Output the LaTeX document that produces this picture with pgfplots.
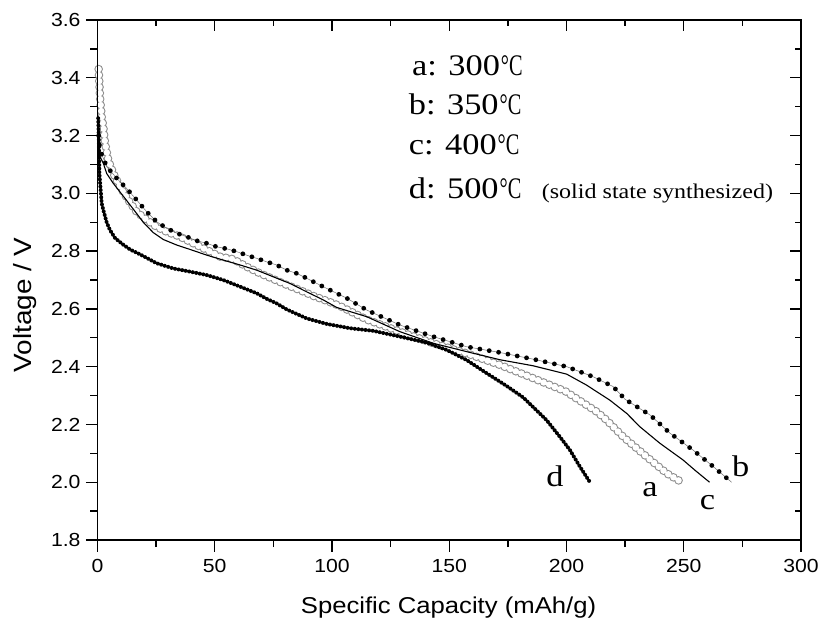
\documentclass[border=0pt]{standalone}
\usepackage{fontspec}
\setmainfont[FakeStretch=1.12]{Liberation Sans}
\newfontfamily\tnr[FakeStretch=1.15]{Liberation Serif}
\newfontfamily\tnrc[FakeStretch=0.68]{Liberation Serif}
\usepackage{pgfplots}
\pgfplotsset{compat=1.18}
\newcommand{\dc}{{\tnrc\kern1pt °C}}

\pgfplotstableread{
x y
0.5 3.43
0.8 3.38
1.1 3.33
1.8 3.265
2.5 3.23
3.2 3.175
4.6 3.115
6.7 3.07
9.6 3.023
13.1 2.977
16.7 2.936
21.0 2.908
25.2 2.884
29.5 2.867
35.2 2.850
40.8 2.827
46.6 2.804
52.2 2.781
57.9 2.772
63.6 2.746
69.3 2.723
75.0 2.703
80.7 2.683
86.3 2.665
92.0 2.645
97.7 2.628
103.4 2.610
114.8 2.563
129.0 2.521
143.2 2.481
157.4 2.446
171.6 2.406
185.8 2.360
199.5 2.315
208.0 2.270
212.9 2.244
217.1 2.215
224.2 2.157
234.2 2.088
242.7 2.031
249.1 2.000
}\dataA

\pgfplotstableread{
x y
0.5 3.20
1.0 3.15
2.5 3.121
3.9 3.092
5.3 3.080
8.2 3.052
12.4 3.017
16.7 2.977
21.0 2.936
25.2 2.902
29.5 2.879
33.8 2.862
38.0 2.850
42.3 2.836
46.6 2.827
50.8 2.815
55.1 2.808
59.4 2.798
63.6 2.786
67.9 2.775
72.1 2.763
76.4 2.752
80.7 2.734
84.9 2.723
89.2 2.706
93.5 2.688
97.7 2.671
102.0 2.654
106.3 2.637
114.8 2.596
129.0 2.544
143.2 2.504
157.4 2.469
171.6 2.449
185.8 2.426
200.1 2.400
211.4 2.365
219.9 2.331
225.0 2.287
235.6 2.233
244.1 2.170
254.0 2.111
262.6 2.054
270.4 2.000
}\dataB

\pgfplotstableread{
x y
0.3 3.17
1.1 3.127
2.5 3.104
3.9 3.069
6.7 3.035
11.0 2.990
15.3 2.945
19.5 2.900
23.8 2.864
28.1 2.840
33.8 2.821
39.4 2.806
46.6 2.786
53.6 2.769
60.8 2.752
67.9 2.734
75.0 2.711
82.1 2.688
89.2 2.659
96.3 2.631
102.0 2.605
114.8 2.573
129.0 2.521
143.2 2.481
157.4 2.452
171.6 2.424
185.8 2.403
200.1 2.374
208.6 2.336
212.0 2.318
218.5 2.284
225.7 2.238
231.3 2.192
239.8 2.135
249.7 2.077
255.0 2.040
261.0 2.000
}\dataC

\pgfplotstableread{
x y
0.3 3.26
0.6 3.18
0.8 3.07
1.8 2.965
2.5 2.942
3.9 2.900
5.3 2.873
7.5 2.845
11.0 2.822
14.0 2.805
18.1 2.789
25.2 2.758
32.3 2.740
39.4 2.729
46.6 2.717
53.6 2.700
60.8 2.677
67.9 2.654
72.1 2.635
76.4 2.619
80.7 2.598
89.2 2.567
97.7 2.548
107.7 2.533
117.6 2.524
129.0 2.504
140.4 2.483
148.9 2.458
157.4 2.423
166.0 2.377
174.5 2.333
181.6 2.293
191.5 2.215
197.2 2.157
201.5 2.111
205.7 2.054
210.0 2.000
}\dataD

\begin{document}
\begin{tikzpicture}
\pgfplotsset{
  common/.style={
    scale only axis, width=703.5bp, height=520bp,
    xmin=0, xmax=300, ymin=1.8, ymax=3.6,
    xtick={0,50,100,150,200,250,300},
    ytick={1.8,2,2.2,2.4,2.6,2.8,3,3.2,3.4,3.6},
    minor x tick num=1, minor y tick num=1,
    axis line style={line width=1.4bp},
    every tick/.style={black, line width=1.3bp},
    major tick length=11.5bp,
  }
}
\begin{axis}[common, name=ax,
    xtick pos=left, ytick pos=left, tick align=outside,
    minor tick length=7bp,
    tick label style={font=\fontsize{19}{21}\selectfont},
    xticklabel style={yshift=-4bp},
    yticklabel style={xshift=-2bp, /pgf/number format/fixed, /pgf/number format/fixed zerofill, /pgf/number format/precision=1},
    /pgf/number format/assume math mode=true,
    xlabel={Specific Capacity (mAh/g)},
    ylabel={Voltage / V},
    xlabel style={at={(axis description cs:0.499,-0.1298)}, anchor=center, font=\fontsize{23}{23}\selectfont},
    ylabel style={at={(axis description cs:-0.1031,0.452)}, anchor=center, font=\fontsize{25}{25}\selectfont},
    clip=false]
% curve a: grey open circles (grey disc with white disc on top = ring)
\addplot[black!45, line width=8.6bp, line cap=round, dash pattern=on 0pt off 6bp] table {\dataA};
\addplot[white, line width=6.4bp, line cap=round, dash pattern=on 0pt off 6bp] table {\dataA};
% curve c: thin line
\addplot[black, line width=1.1bp] table {\dataC};
% curve b: dots on thin line
\addplot[black!55, line width=0.5bp] table {\dataB};
\addplot[black, line width=4.8bp, line cap=round, dash pattern=on 0pt off 9.5bp] table {\dataB};
% curve d: dense dots
\addplot[black, line width=4bp, line cap=round, dash pattern=on 0pt off 3.6bp] table {\dataD};

\node[anchor=base west, inner sep=0, font=\tnr\fontsize{30}{30}\selectfont] at (axis cs:134.1,3.4096) {a: 300\dc};
\node[anchor=base west, inner sep=0, font=\tnr\fontsize{30}{30}\selectfont] at (axis cs:132.7,3.2712) {b: 350\dc};
\node[anchor=base west, inner sep=0, font=\tnr\fontsize{30}{30}\selectfont] at (axis cs:132.7,3.1327) {c: 400\dc};
\node[anchor=base west, inner sep=0, font=\tnr\fontsize{30}{30}\selectfont] at (axis cs:132.7,2.9838) {d: 500\dc};
\node[anchor=base west, inner sep=0, font=\tnr\fontsize{21}{21}\selectfont] at (axis cs:189.4,2.9838) {(solid state synthesized)};

\node[anchor=base, inner sep=0, font=\tnr\fontsize{30}{30}\selectfont] at (axis cs:195.1,1.9846) {d};
\node[anchor=base, inner sep=0, font=\tnr\fontsize{30}{30}\selectfont] at (axis cs:235.6,1.9491) {a};
\node[anchor=base, inner sep=0, font=\tnr\fontsize{30}{30}\selectfont] at (axis cs:260.1,1.9073) {c};
\node[anchor=base, inner sep=0, font=\tnr\fontsize{30}{30}\selectfont] at (axis cs:274.3,2.0191) {b};
\end{axis}
\begin{axis}[common,
    xtick pos=right, ytick pos=right, tick align=inside,
    minor tick length=6.5bp,
    xticklabels={}, yticklabels={}]
\end{axis}
\pgfresetboundingbox
\path[use as bounding box] ([shift={(-97.5bp,-81bp)}]ax.south west) rectangle ([shift={(19bp,20bp)}]ax.north east);
\end{tikzpicture}
\end{document}
